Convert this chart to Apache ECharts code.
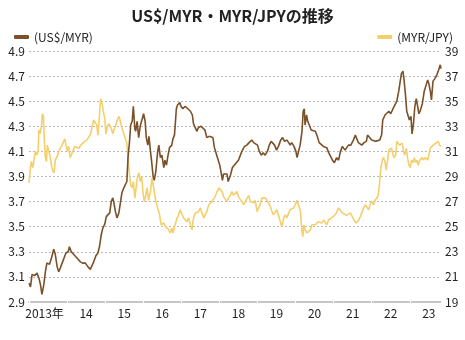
<!DOCTYPE html>
<html>
<head>
<meta charset="utf-8">
<script src="https://cdn.jsdelivr.net/npm/echarts@6/dist/echarts.min.js"></script>
<style>
html,body{margin:0;padding:0;background:#fff}
#c{width:465px;height:340px}
</style>
</head>
<body>
<div id="c"></div>
<script>
// US$/MYR (left axis), decimal years and rates
const usdMyrDates = [
2013.00,2013.04,2013.08,2013.15,2013.21,2013.26,2013.30,2013.34,2013.39,2013.43,2013.47,2013.54,2013.59,2013.65,2013.69,2013.74,2013.78,2013.82,2013.87,2013.91,2013.97,
2014.03,2014.06,2014.11,2014.17,2014.22,2014.29,2014.35,2014.41,2014.48,2014.55,2014.61,2014.66,2014.70,2014.76,2014.81,2014.85,2014.90,2014.94,2014.99,
2015.03,2015.08,2015.12,2015.16,2015.20,2015.23,2015.27,2015.31,2015.36,2015.41,2015.44,2015.49,2015.53,2015.57,2015.60,2015.64,2015.67,2015.71,2015.74,2015.78,2015.80,2015.84,2015.88,2015.92,2015.97,
2016.01,2016.05,2016.08,2016.12,2016.15,2016.19,2016.22,2016.26,2016.29,2016.33,2016.38,2016.41,2016.45,2016.49,2016.54,2016.57,2016.61,2016.64,2016.69,2016.75,2016.78,2016.82,2016.84,2016.87,2016.90,2016.96,2016.99,
2017.04,2017.10,2017.17,2017.24,2017.29,2017.32,2017.38,2017.41,2017.45,2017.52,2017.57,2017.62,2017.67,2017.73,2017.78,2017.83,2017.87,2017.92,2017.97,
2018.01,2018.04,2018.08,2018.11,2018.15,2018.20,2018.23,2018.29,2018.34,2018.39,2018.42,2018.50,2018.59,2018.66,2018.72,2018.78,2018.85,2018.90,2018.94,
2019.00,2019.05,2019.10,2019.15,2019.20,2019.26,2019.31,2019.36,2019.40,2019.45,2019.50,2019.55,2019.61,2019.66,2019.71,2019.77,2019.82,2019.86,2019.90,2019.96,
2020.01,2020.04,2020.08,2020.12,2020.17,2020.20,2020.23,2020.25,2020.29,2020.32,2020.36,2020.41,2020.46,2020.52,2020.57,2020.62,2020.67,2020.73,2020.78,2020.82,2020.87,2020.92,2020.97,
2021.02,2021.08,2021.13,2021.18,2021.23,2021.30,2021.33,2021.39,2021.45,2021.52,2021.57,2021.61,2021.65,2021.70,2021.74,2021.80,2021.86,2021.89,2021.94,
2022.00,2022.05,2022.10,2022.15,2022.21,2022.26,2022.29,2022.35,2022.40,2022.45,2022.50,2022.56,2022.61,2022.66,2022.71,2022.75,2022.78,2022.82,2022.85,2022.89,2022.92,2022.96,2022.99,
2023.03,2023.06,2023.10,2023.13,2023.17,2023.20,2023.24,2023.27,2023.33,2023.38,2023.43,2023.47,2023.50,2023.54,2023.57,2023.61,2023.66,2023.71,2023.76,2023.80,2023.82
];
const usdMyrRates = [
3.05,3.02,3.12,3.11,3.13,3.09,3.04,2.96,3.04,3.14,3.21,3.20,3.25,3.32,3.28,3.18,3.14,3.17,3.21,3.22,3.29,
3.30,3.34,3.30,3.28,3.29,3.24,3.22,3.21,3.21,3.18,3.16,3.15,3.22,3.27,3.29,3.34,3.44,3.49,3.52,
3.58,3.59,3.61,3.70,3.73,3.69,3.62,3.57,3.61,3.71,3.77,3.81,3.82,3.86,4.05,4.18,4.31,4.34,4.46,4.28,4.26,4.34,4.21,4.30,4.31,
4.40,4.34,4.21,4.15,4.22,4.10,4.02,3.90,3.87,3.94,4.10,4.15,4.05,4.07,3.97,4.03,3.99,4.05,4.13,4.15,4.20,4.23,4.31,4.44,4.47,4.49,4.46,
4.44,4.46,4.44,4.42,4.39,4.32,4.28,4.26,4.29,4.30,4.30,4.27,4.21,4.22,4.23,4.21,4.13,4.08,4.07,
3.99,3.94,3.87,3.92,3.91,3.92,3.86,3.91,3.97,3.99,3.98,4.03,4.10,4.14,4.15,4.17,4.19,4.17,4.18,
4.15,4.10,4.07,4.09,4.07,4.10,4.15,4.18,4.18,4.15,4.11,4.14,4.19,4.21,4.18,4.19,4.17,4.15,4.17,4.14,
4.10,4.05,4.10,4.15,4.26,4.42,4.44,4.31,4.39,4.34,4.31,4.27,4.28,4.26,4.22,4.17,4.16,4.14,4.15,4.13,4.09,4.06,4.03,
4.01,4.05,4.03,4.10,4.14,4.11,4.10,4.15,4.15,4.19,4.23,4.22,4.17,4.18,4.15,4.17,4.18,4.23,4.22,
4.19,4.19,4.18,4.18,4.19,4.23,4.35,4.39,4.38,4.42,4.40,4.44,4.47,4.50,4.58,4.66,4.72,4.74,4.67,4.54,4.42,4.43,4.35,
4.38,4.24,4.33,4.45,4.52,4.47,4.40,4.42,4.48,4.58,4.63,4.67,4.64,4.58,4.51,4.66,4.68,4.71,4.75,4.79,4.76
];

// MYR/JPY (right axis), decimal years and rates
const myrJpyDates = [
2013.00,2013.03,2013.06,2013.10,2013.13,2013.17,2013.20,2013.24,2013.26,2013.29,2013.33,2013.35,2013.38,2013.40,2013.43,2013.46,2013.48,2013.52,2013.55,2013.59,2013.62,2013.66,2013.69,2013.74,2013.78,2013.82,2013.87,2013.91,2013.94,2013.97,
2014.01,2014.04,2014.08,2014.11,2014.15,2014.20,2014.25,2014.31,2014.36,2014.41,2014.46,2014.52,2014.57,2014.62,2014.66,2014.70,2014.74,2014.78,2014.81,2014.85,2014.88,2014.92,2014.95,2014.99,
2015.02,2015.06,2015.09,2015.13,2015.16,2015.20,2015.23,2015.27,2015.32,2015.36,2015.39,2015.43,2015.46,2015.50,2015.53,2015.57,2015.60,2015.64,2015.67,2015.71,2015.74,2015.78,2015.82,2015.85,2015.89,2015.92,2015.96,2015.99,
2016.03,2016.06,2016.10,2016.14,2016.19,2016.23,2016.27,2016.31,2016.34,2016.38,2016.43,2016.47,2016.50,2016.54,2016.58,2016.62,2016.67,2016.71,2016.75,2016.78,2016.82,2016.85,2016.89,2016.93,2016.97,
2017.02,2017.06,2017.10,2017.15,2017.19,2017.24,2017.28,2017.32,2017.37,2017.41,2017.45,2017.50,2017.54,2017.59,2017.63,2017.67,2017.72,2017.76,2017.80,2017.85,2017.89,2017.94,2017.99,
2018.02,2018.07,2018.11,2018.15,2018.20,2018.24,2018.29,2018.33,2018.37,2018.42,2018.46,2018.50,2018.55,2018.59,2018.64,2018.68,2018.72,2018.77,2018.81,2018.85,2018.90,2018.94,2018.99,
2019.03,2019.07,2019.12,2019.16,2019.20,2019.25,2019.29,2019.34,2019.38,2019.42,2019.47,2019.51,2019.55,2019.60,2019.64,2019.69,2019.73,2019.77,2019.82,2019.86,2019.90,2019.95,2019.99,
2020.04,2020.06,2020.10,2020.13,2020.17,2020.19,2020.22,2020.25,2020.30,2020.34,2020.39,2020.43,2020.47,2020.52,2020.56,2020.60,2020.65,2020.69,2020.74,2020.78,2020.82,2020.87,2020.91,2020.95,
2021.00,2021.04,2021.09,2021.13,2021.17,2021.23,2021.28,2021.33,2021.38,2021.44,2021.49,2021.54,2021.59,2021.63,2021.66,2021.70,2021.74,2021.79,2021.83,2021.87,2021.92,2021.96,
2022.00,2022.05,2022.09,2022.14,2022.17,2022.21,2022.24,2022.28,2022.31,2022.35,2022.38,2022.42,2022.45,2022.49,2022.52,2022.56,2022.59,2022.63,2022.66,2022.70,2022.73,2022.77,2022.80,2022.84,2022.87,2022.91,2022.94,2022.98,
2023.01,2023.05,2023.08,2023.12,2023.15,2023.19,2023.22,2023.26,2023.29,2023.33,2023.36,2023.40,2023.43,2023.47,2023.50,2023.54,2023.57,2023.61,2023.64,2023.68,2023.71,2023.75,2023.78,2023.82
];
const myrJpyRates = [
28.5,29.5,30.2,29.7,30.3,31.0,30.7,31.0,32.7,32.4,33.1,34.0,33.8,32.0,30.5,30.2,31.5,31.0,30.7,29.9,29.5,29.3,30.3,30.6,31.0,31.1,31.5,31.8,32.0,31.5,
31.0,31.4,30.5,30.7,31.0,31.4,31.5,31.25,31.5,31.65,31.8,31.9,32.05,32.4,33.0,33.5,33.4,33.1,32.3,33.9,35.2,34.8,34.2,33.6,
32.4,33.0,33.2,33.1,32.85,32.4,32.7,33.0,33.5,33.8,33.5,33.0,32.7,32.6,32.0,31.65,30.5,29.1,28.3,28.1,28.6,27.3,28.3,29.0,29.3,28.6,29.0,27.8,
27.0,27.4,28.1,27.1,27.8,28.9,28.2,27.4,26.9,26.5,25.95,25.15,25.0,25.3,25.0,25.15,24.75,24.5,24.9,24.5,25.0,25.15,25.7,25.95,26.35,
25.95,25.7,25.8,25.4,25.7,25.15,24.75,25.7,26.1,25.95,26.2,26.5,26.1,25.7,25.8,26.2,26.75,26.6,27.0,27.1,27.4,27.8,28.1,
28.2,27.8,27.4,27.3,27.0,27.3,27.5,27.8,27.5,27.4,27.8,27.4,27.3,27.0,26.75,27.0,27.1,27.5,27.0,27.1,26.9,27.1,26.2,
26.5,26.75,27.3,27.4,27.3,27.1,27.0,26.6,26.2,25.95,26.1,26.35,26.2,25.4,25.0,25.7,25.95,25.7,26.1,26.35,26.2,26.5,26.75,
27.1,26.9,26.5,26.2,24.6,24.2,25.15,24.75,24.5,24.6,24.75,25.15,25.0,25.15,25.0,25.4,25.55,25.3,25.55,25.4,25.15,25.55,25.7,25.7,
25.8,25.95,26.2,26.5,26.4,26.1,26.2,25.9,26.0,26.1,25.8,25.5,25.3,25.2,25.5,25.8,25.95,26.5,26.75,26.6,26.35,26.75,
27.0,26.75,27.1,27.3,27.5,28.6,29.7,30.3,30.5,30.2,29.5,30.3,31.1,31.0,31.25,30.7,30.5,30.7,31.8,31.9,31.5,31.4,31.65,31.0,30.7,31.25,30.5,29.9,
29.7,30.3,30.1,30.5,30.1,30.3,29.9,30.3,30.2,30.5,30.3,30.5,30.6,30.3,30.7,31.25,31.4,31.5,31.4,31.65,31.5,31.8,31.5,31.4
];

// Year labels shown in the middle of each year
const yearLabels = ['2013年','14','15','16','17','18','19','20','21','22','23'];

const FONT = '"Noto Sans CJK JP", "Noto Sans", sans-serif';
const TEXT = '#222';
const BROWN = '#7a5128';
const YELLOW = '#f4cf6c';

const zip = (xs, ys) => xs.map((x, i) => [x, ys[i]]);

const chart = echarts.init(document.getElementById('c'), null, { renderer: 'canvas' });

chart.setOption({
  animation: false,
  backgroundColor: '#fff',
  title: {
    text: 'US$/MYR・MYR/JPYの推移',
    left: 'center',
    top: 3,
    textStyle: { fontFamily: FONT, fontSize: 16, fontWeight: 'bold', color: TEXT }
  },
  legend: [
    {
      left: 9, top: 26, data: ['(US$/MYR)'],
      icon: 'roundRect', itemWidth: 15, itemHeight: 4,
      textStyle: { fontFamily: FONT, fontSize: 12, color: TEXT }
    },
    {
      right: 7, top: 26, data: ['(MYR/JPY)'],
      icon: 'roundRect', itemWidth: 15, itemHeight: 4,
      textStyle: { fontFamily: FONT, fontSize: 12, color: TEXT }
    }
  ],
  grid: { left: 29, right: 24, top: 51, bottom: 38 },
  xAxis: [
    {
      type: 'value', min: 2013, max: 2023.82, interval: 0.5,
      axisLine: { lineStyle: { color: '#c6c6c6', width: 2 } },
      axisTick: { show: false },
      splitLine: { show: false },
      axisLabel: {
        margin: 5, color: TEXT, fontSize: 12, fontFamily: FONT,
        showMinLabel: false, showMaxLabel: false,
        formatter: function (v) {
          const frac = Math.round((v - Math.floor(v)) * 10);
          if (frac !== 5) return '';
          const i = Math.floor(v) - 2013;
          if (i === 0) return '{first|' + yearLabels[0] + '}';
          return yearLabels[i] || '';
        },
        rich: {
          first: { fontFamily: FONT, fontSize: 12, color: TEXT, padding: [0, 7, 0, 0] }
        }
      }
    },
    {
      // thin white notches cutting the base line at year boundaries
      type: 'value', min: 2013, max: 2023.82, interval: 1,
      position: 'bottom', offset: 1,
      axisLine: { show: false },
      axisTick: { show: true, inside: true, length: 3, lineStyle: { color: '#fff', width: 1 } },
      axisLabel: { show: false },
      splitLine: { show: false }
    }
  ],
  yAxis: [
    {
      type: 'value', min: 2.9, max: 4.9, interval: 0.2,
      axisLine: { show: false }, axisTick: { show: false },
      splitLine: { lineStyle: { color: '#b8b8b8', width: 1, type: [2, 2] } },
      axisLabel: {
        margin: 4, color: TEXT, fontSize: 12, fontFamily: FONT,
        formatter: v => v.toFixed(1)
      }
    },
    {
      type: 'value', min: 19, max: 39, interval: 2, position: 'right',
      axisLine: { show: false }, axisTick: { show: false },
      splitLine: { show: false },
      axisLabel: {
        margin: 4, color: TEXT, fontSize: 12, fontFamily: FONT,
        formatter: v => String(Math.round(v))
      }
    }
  ],
  series: [
    {
      name: '(MYR/JPY)', type: 'line', yAxisIndex: 1,
      data: zip(myrJpyDates, myrJpyRates),
      showSymbol: false, symbol: 'none',
      lineStyle: { color: YELLOW, width: 1.6 },
      itemStyle: { color: YELLOW }
    },
    {
      name: '(US$/MYR)', type: 'line', yAxisIndex: 0,
      data: zip(usdMyrDates, usdMyrRates),
      showSymbol: false, symbol: 'none',
      lineStyle: { color: BROWN, width: 1.6 },
      itemStyle: { color: BROWN }
    }
  ]
});
</script>
</body>
</html>
